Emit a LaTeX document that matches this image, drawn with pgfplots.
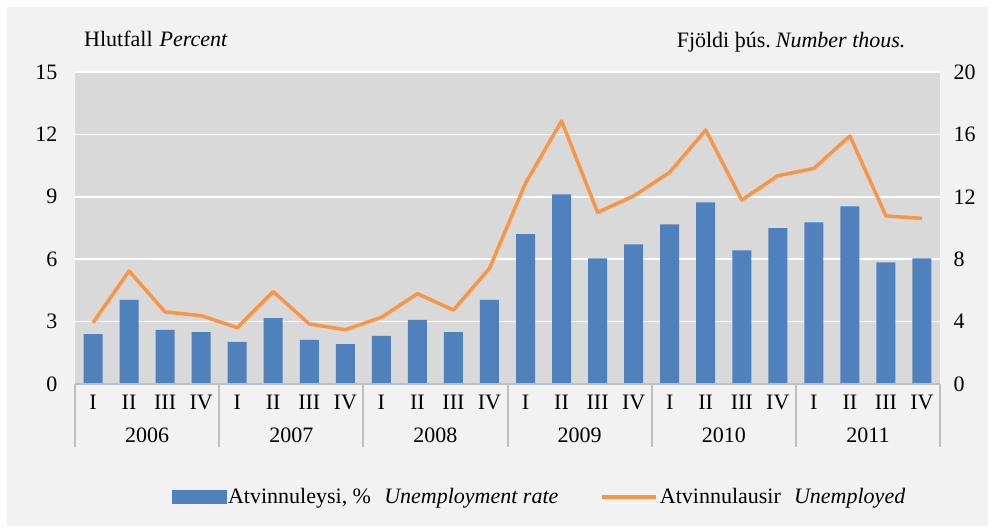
\documentclass[border=0pt]{standalone}
\usepackage{fontspec}
\setmainfont{Liberation Serif}
\usepackage{pgfplots}
\pgfplotsset{compat=1.18}
\definecolor{bgc}{HTML}{F2F2F2}
\definecolor{plotbg}{HTML}{D9D9D9}
\definecolor{barblue}{HTML}{4F81BD}
\definecolor{lineorange}{HTML}{F79646}
\definecolor{axgray}{HTML}{BFBFBF}
\newcommand{\fs}{\fontsize{22}{25}\selectfont}
\begin{document}
\begin{tikzpicture}[font=\fs]
\useasboundingbox (0,0) rectangle (994pt,531pt);
\fill[white] (0,0) rectangle (994pt,531pt);
\fill[bgc] (7pt,5pt) rectangle (988pt,524pt);
\pgfplotsset{
  myaxis/.style={
    at={(75pt,147pt)}, anchor=south west,
    scale only axis, width=865pt, height=312pt,
    xmin=-0.5, xmax=23.5, clip=false,
    axis line style={draw=none},
    tick style={draw=none},
    /pgf/number format/assume math mode=true,
    tick label style={font=\fs},
  }
}
\begin{axis}[myaxis,
  ymin=0, ymax=15, ytick={0,3,...,15},
  axis background/.style={fill=plotbg},
  ymajorgrids, major grid style={white, line width=1.5pt},
  xtick={0,...,23},
  xticklabels={I,II,III,IV,I,II,III,IV,I,II,III,IV,I,II,III,IV,I,II,III,IV,I,II,III,IV},
  xticklabel style={anchor=base, yshift=-25pt},
  yticklabel style={anchor=east, xshift=-14pt},
]
\addplot[ybar, bar width=19pt, fill=barblue, draw=none] coordinates {
(0,2.40) (1,4.04) (2,2.60) (3,2.50) (4,2.02) (5,3.17) (6,2.12) (7,1.92)
(8,2.31) (9,3.08) (10,2.50) (11,4.04) (12,7.21) (13,9.12) (14,6.04) (15,6.71)
(16,7.68) (17,8.73) (18,6.43) (19,7.49) (20,7.77) (21,8.54) (22,5.85) (23,6.04)};
\draw[axgray, line width=2pt] (axis cs:-0.5,0) -- ++(0pt,-63pt);
\draw[axgray, line width=2pt] (axis cs:3.5,0) -- ++(0pt,-63pt);
\draw[axgray, line width=2pt] (axis cs:7.5,0) -- ++(0pt,-63pt);
\draw[axgray, line width=2pt] (axis cs:11.5,0) -- ++(0pt,-63pt);
\draw[axgray, line width=2pt] (axis cs:15.5,0) -- ++(0pt,-63pt);
\draw[axgray, line width=2pt] (axis cs:19.5,0) -- ++(0pt,-63pt);
\draw[axgray, line width=2pt] (axis cs:23.5,0) -- ++(0pt,-63pt);
\draw[axgray, line width=2.5pt] (axis cs:-0.5,0) -- (axis cs:23.5,0);
\end{axis}
\begin{axis}[myaxis,
  ymin=0, ymax=20, ytick={0,4,...,20},
  yticklabel pos=right,
  yticklabel style={anchor=west, xshift=10pt},
  xtick={1.5,5.5,9.5,13.5,17.5,21.5},
  xticklabels={2006,2007,2008,2009,2010,2011},
  xticklabel style={anchor=base, yshift=-58pt},
  legend columns=2,
  legend style={draw=none, fill=none, at={(0.537,-0.362)}, anchor=center,
    font=\fs, /tikz/every even column/.append style={column sep=40pt}},
  legend cell align=left,
]
\addlegendimage{legend image code/.code={\fill[barblue] (0pt,-6.5pt) rectangle (54pt,6.5pt);}}
\addlegendentry{Atvinnuleysi, \%\hspace{0.6em}\textit{Unemployment rate}}
\addplot[lineorange, line width=3.5pt, mark=none, line join=round,
  legend image code/.code={\draw[lineorange, line width=3.5pt] (0pt,0pt) -- (54pt,0pt);}] coordinates {
(0,3.93) (1,7.24) (2,4.62) (3,4.38) (4,3.61) (5,5.92) (6,3.85) (7,3.48)
(8,4.27) (9,5.79) (10,4.74) (11,7.41) (12,12.87) (13,16.86) (14,11.0) (15,12.05)
(16,13.57) (17,16.28) (18,11.79) (19,13.35) (20,13.82) (21,15.9) (22,10.77) (23,10.62)};
\addlegendentry{Atvinnulausir\hspace{0.6em}\textit{Unemployed}}
\end{axis}
\node[anchor=base west] at (80.7pt,484.3pt) {Hlutfall\hspace{7pt}\textit{Percent}};
\node[anchor=base east] at (909pt,483pt) {Fjöldi þús.\hspace{5pt}\textit{Number thous.}};
\end{tikzpicture}
\end{document}
